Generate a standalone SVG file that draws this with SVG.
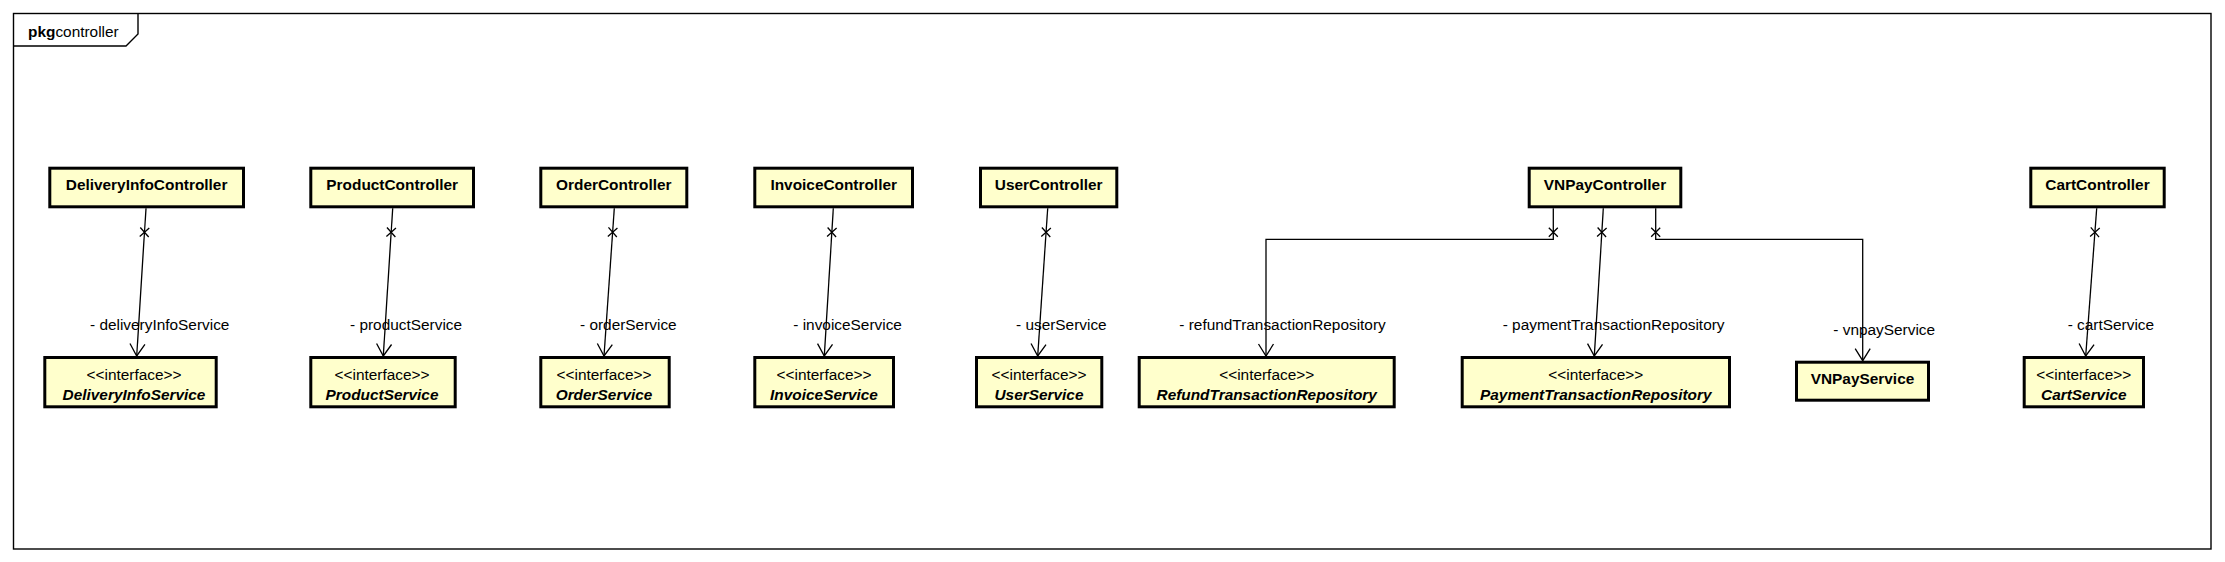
<svg xmlns="http://www.w3.org/2000/svg" width="2225" height="562" viewBox="0 0 2225 562">
<style>
text{font-family:"Liberation Sans",Arial,sans-serif;font-size:15.4px;fill:#000}
.box{fill:#FFFFCC;stroke:#000;stroke-width:3}
.nm{font-weight:bold;text-anchor:middle}
.it{font-weight:bold;font-style:italic;text-anchor:middle}
.st{text-anchor:middle}
.cn{fill:none;stroke:#000;stroke-width:1.3}
.frame{fill:none;stroke:#000;stroke-width:1.4}
</style>
<defs>
<marker id="arr" markerUnits="userSpaceOnUse" orient="auto" markerWidth="30" markerHeight="30" refX="0" refY="0" viewBox="-15 -15 30 30" overflow="visible">
<path d="M-12,-7.5 L0,0 L-12,7.5" fill="none" stroke="#000" stroke-width="1.3"/>
</marker>
<marker id="xm" markerUnits="userSpaceOnUse" orient="auto" markerWidth="40" markerHeight="40" refX="0" refY="0" viewBox="-20 -20 40 40" overflow="visible">
<path d="M19.5,-4.5 L28.5,4.5 M19.5,4.5 L28.5,-4.5" fill="none" stroke="#000" stroke-width="1.3"/>
</marker>
</defs>
<rect width="2225" height="562" fill="#fff"/>
<g id="frame">
<rect class="frame" x="13.5" y="13.5" width="2197.5" height="535.5"/>
<path class="frame" d="M13.5,46 H126 L138,34 V13.5"/>
<text x="28" y="36.5"><tspan font-weight="bold">pkg</tspan>controller</text>
</g>
<g id="connectors">
<path class="cn" d="M146,208.3 L136.7,356" marker-start="url(#xm)" marker-end="url(#arr)"/>
<path class="cn" d="M392.7,208.3 L383.3,356" marker-start="url(#xm)" marker-end="url(#arr)"/>
<path class="cn" d="M614.3,208.3 L604,356" marker-start="url(#xm)" marker-end="url(#arr)"/>
<path class="cn" d="M833.3,208.3 L824.3,356" marker-start="url(#xm)" marker-end="url(#arr)"/>
<path class="cn" d="M1047.7,208.3 L1037.7,356" marker-start="url(#xm)" marker-end="url(#arr)"/>
<path class="cn" d="M1553.3,208.3 V239.3 H1266 V356" marker-start="url(#xm)" marker-end="url(#arr)"/>
<path class="cn" d="M1603.3,208.3 L1594.3,356" marker-start="url(#xm)" marker-end="url(#arr)"/>
<path class="cn" d="M1655.7,208.3 V239.3 H1862.7 V360.7" marker-start="url(#xm)" marker-end="url(#arr)"/>
<path class="cn" d="M2096.7,208.3 L2085.7,356" marker-start="url(#xm)" marker-end="url(#arr)"/>
<text x="90" y="330">- deliveryInfoService</text>
<text x="350" y="330">- productService</text>
<text x="580" y="330">- orderService</text>
<text x="793.3" y="330">- invoiceService</text>
<text x="1016" y="330">- userService</text>
<text x="1179.3" y="330">- refundTransactionRepository</text>
<text x="1502.7" y="330">- paymentTransactionRepository</text>
<text x="1833.3" y="335">- vnpayService</text>
<text x="2067.7" y="330">- cartService</text>
</g>
<g id="DeliveryInfoController"><rect class="box" x="49.8" y="168.2" width="193.7" height="38.6"/><text class="nm" x="146.6" y="190">DeliveryInfoController</text></g>
<g id="ProductController"><rect class="box" x="310.8" y="168.2" width="162.7" height="38.6"/><text class="nm" x="392.2" y="190">ProductController</text></g>
<g id="OrderController"><rect class="box" x="540.8" y="168.2" width="146" height="38.6"/><text class="nm" x="613.8" y="190">OrderController</text></g>
<g id="InvoiceController"><rect class="box" x="754.8" y="168.2" width="157.7" height="38.6"/><text class="nm" x="833.7" y="190">InvoiceController</text></g>
<g id="UserController"><rect class="box" x="980.5" y="168.2" width="136.3" height="38.6"/><text class="nm" x="1048.7" y="190">UserController</text></g>
<g id="VNPayController"><rect class="box" x="1529.2" y="168.2" width="151.6" height="38.6"/><text class="nm" x="1605" y="190">VNPayController</text></g>
<g id="CartController"><rect class="box" x="2030.8" y="168.2" width="133.4" height="38.6"/><text class="nm" x="2097.5" y="190">CartController</text></g>
<g id="DeliveryInfoService"><rect class="box" x="44.8" y="357.5" width="171.4" height="49.3"/><text class="st" x="134" y="380">&lt;&lt;interface&gt;&gt;</text><text class="it" x="134" y="399.5">DeliveryInfoService</text></g>
<g id="ProductService"><rect class="box" x="310.8" y="357.5" width="144.4" height="49.3"/><text class="st" x="382" y="380">&lt;&lt;interface&gt;&gt;</text><text class="it" x="382" y="399.5">ProductService</text></g>
<g id="OrderService"><rect class="box" x="540.8" y="357.5" width="128.4" height="49.3"/><text class="st" x="604" y="380">&lt;&lt;interface&gt;&gt;</text><text class="it" x="604" y="399.5">OrderService</text></g>
<g id="InvoiceService"><rect class="box" x="754.8" y="357.5" width="138.7" height="49.3"/><text class="st" x="824" y="380">&lt;&lt;interface&gt;&gt;</text><text class="it" x="824" y="399.5">InvoiceService</text></g>
<g id="UserService"><rect class="box" x="976.5" y="357.5" width="125.3" height="49.3"/><text class="st" x="1039" y="380">&lt;&lt;interface&gt;&gt;</text><text class="it" x="1039" y="399.5">UserService</text></g>
<g id="RefundTransactionRepository"><rect class="box" x="1139.2" y="357.5" width="255" height="49.3"/><text class="st" x="1266.7" y="380">&lt;&lt;interface&gt;&gt;</text><text class="it" x="1266.7" y="399.5">RefundTransactionRepository</text></g>
<g id="PaymentTransactionRepository"><rect class="box" x="1462.2" y="357.5" width="267.3" height="49.3"/><text class="st" x="1595.8" y="380">&lt;&lt;interface&gt;&gt;</text><text class="it" x="1595.8" y="399.5">PaymentTransactionRepository</text></g>
<g id="VNPayService"><rect class="box" x="1796.5" y="362.2" width="132" height="38"/><text class="nm" x="1862.5" y="383.5">VNPayService</text></g>
<g id="CartService"><rect class="box" x="2024.2" y="357.5" width="119.3" height="49.3"/><text class="st" x="2083.8" y="380">&lt;&lt;interface&gt;&gt;</text><text class="it" x="2083.8" y="399.5">CartService</text></g>
</svg>
